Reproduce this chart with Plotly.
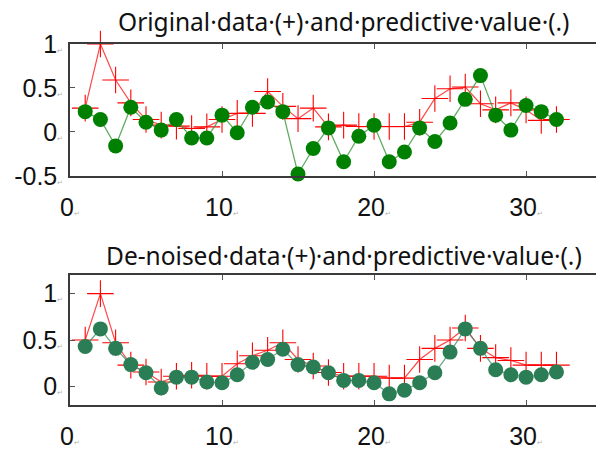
import plotly.graph_objects as go

# Sample index (1..32)
x = list(range(1, 33))

# Upper panel: original data and predicted values
orig_data = [0.27, 1.0, 0.59, 0.33, 0.14, 0.076, 0.065, 0.038, 0.057, 0.14,
             0.21, 0.21, 0.46, 0.29, 0.15, 0.27, 0.057, 0.076, 0.06, 0.06,
             0.06, 0.06, 0.11, 0.38, 0.49, 0.51, 0.32, 0.25, 0.33, 0.25,
             0.13, 0.14]
orig_pred = [0.23, 0.14, -0.16, 0.28, 0.11, 0.02, 0.14, -0.07, -0.07, 0.19,
             -0.01, 0.28, 0.34, 0.23, -0.48, -0.19, 0.045, -0.34, -0.05, 0.076,
             -0.34, -0.23, 0.045, -0.11, 0.10, 0.37, 0.64, 0.19, 0.02, 0.30,
             0.23, 0.14]

# Lower panel: de-noised data and predicted values
den_data = [0.50, 1.0, 0.47, 0.23, 0.155, 0.047, 0.11, 0.12, 0.11, 0.11,
            0.245, 0.33, 0.39, 0.47, 0.29, 0.22, 0.15, 0.11, 0.11, 0.11,
            0.09, 0.09, 0.29, 0.41, 0.50, 0.63, 0.41, 0.31, 0.28, 0.23,
            0.23, 0.23]
den_pred = [0.43, 0.62, 0.41, 0.235, 0.148, -0.017, 0.10, 0.10, 0.047, 0.04,
            0.126, 0.26, 0.29, 0.40, 0.235, 0.21, 0.148, 0.065, 0.065, 0.04,
            -0.08, -0.04, 0.04, 0.148, 0.37, 0.62, 0.41, 0.18, 0.126, 0.10,
            0.126, 0.155]

x_ticks = [0, 10, 20, 30]
top_yticks = [-0.5, 0, 0.5, 1]
bot_yticks = [0, 0.5, 1]

MARK = "<span style='font-size:7px;color:#b0b0b0'>\u21b5</span>"


def tick_labels(vals):
    return [f"{v:g}{MARK}" for v in vals]


RED = "#ff0000"
fig = go.Figure()


def add_panel(data, pred, xa, ya, dot_color, line_color):
    fig.add_trace(go.Scatter(
        x=x, y=data, xaxis=xa, yaxis=ya, mode="lines+markers",
        line=dict(color="rgba(255,40,40,0.85)", width=1.2),
        marker=dict(symbol="cross-thin", size=19, color=RED,
                    line=dict(color=RED, width=1.1)),
        showlegend=False, cliponaxis=False))
    fig.add_trace(go.Scatter(
        x=x, y=pred, xaxis=xa, yaxis=ya, mode="lines+markers",
        line=dict(color=line_color, width=1.3),
        marker=dict(symbol="circle", size=15, color=dot_color,
                    line=dict(width=0)),
        showlegend=False, cliponaxis=False))


add_panel(orig_data, orig_pred, "x", "y", "#008000", "rgba(60,150,60,0.8)")
add_panel(den_data, den_pred, "x2", "y2", "#2a7d54", "rgba(60,140,100,0.75)")

tick_font = dict(family="Liberation Sans, Arial, sans-serif", size=25, color="#111")
axis_common = dict(showgrid=False, zeroline=False, showline=True,
                   linecolor="#3a3a3a", linewidth=1.5, ticks="inside",
                   ticklen=5, tickcolor="#555", tickwidth=1.2,
                   tickfont=tick_font)

top_dom = [0.635, 1.0]
bot_dom = [0.0, 0.36]

title_font = dict(family="Noto Sans, Open Sans, sans-serif", size=24.5,
                  color="#111")

fig.update_layout(
    width=596, height=450,
    margin=dict(l=70, r=0, t=44, b=42),
    paper_bgcolor="white", plot_bgcolor="white",
    xaxis=dict(axis_common, range=[0, 34.6], domain=[0, 1], anchor="y",
               mirror="ticks", tickvals=x_ticks, ticktext=tick_labels(x_ticks),
               ticklabelstandoff=8),
    yaxis=dict(axis_common, range=[-0.5, 1], domain=top_dom, anchor="x",
               tickvals=top_yticks, ticktext=tick_labels(top_yticks),
               ticklabelstandoff=0),
    xaxis2=dict(axis_common, range=[0, 34.6], domain=[0, 1], anchor="y2",
                mirror="ticks", tickvals=x_ticks, ticktext=tick_labels(x_ticks),
                ticklabelstandoff=8),
    yaxis2=dict(axis_common, range=[-0.2, 1.2], domain=bot_dom, anchor="x2",
                tickvals=bot_yticks, ticktext=tick_labels(bot_yticks),
                ticklabelstandoff=0),
    annotations=[
        dict(text="Original\u00b7data\u00b7(+)\u00b7and\u00b7predictive\u00b7value\u00b7(.)",
             xref="paper", yref="paper", x=0.52, y=1.0, yshift=23,
             xanchor="center", yanchor="middle", showarrow=False,
             font=title_font),
        dict(text="De-noised\u00b7data\u00b7(+)\u00b7and\u00b7predictive\u00b7value\u00b7(.)",
             xref="paper", yref="paper", x=0.52, y=bot_dom[1], yshift=20,
             xanchor="center", yanchor="middle", showarrow=False,
             font=title_font),
    ],
)

fig.write_html("out.html")
